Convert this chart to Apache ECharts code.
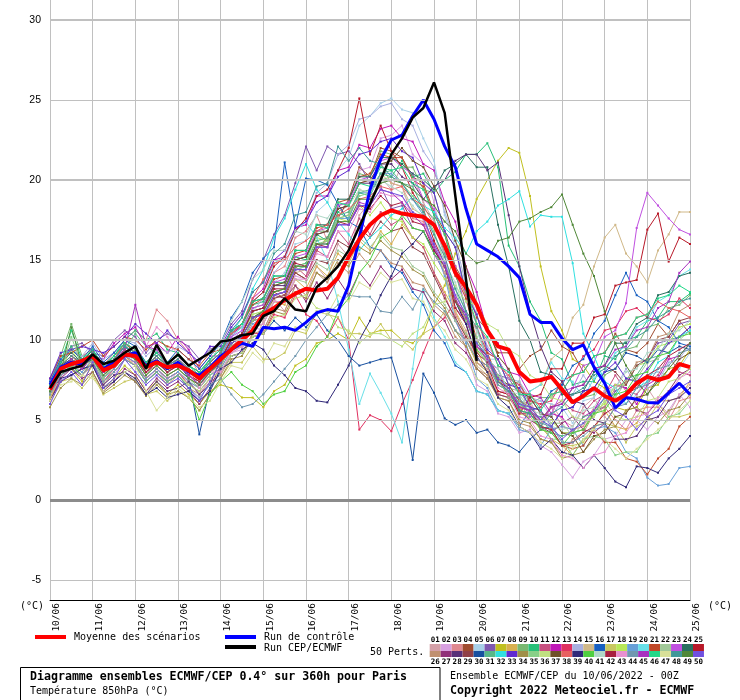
<!DOCTYPE html>
<html><head><meta charset="utf-8">
<script src="https://cdn.jsdelivr.net/npm/echarts/dist/echarts.min.js"></script>
<style>html,body{margin:0;padding:0;background:#fff}#c{width:740px;height:700px}</style>
</head><body><div id="c"></div>
<script>
const hours = [0,6,12,18,24,30,36,42,48,54,60,66,72,78,84,90,96,102,108,114,120,126,132,138,144,150,156,162,168,174,180,186,192,198,204,210,216,222,228,234,240,246,252,258,264,270,276,282,288,294,300,306,312,318,324,330,336,342,348,354,360];
const dateLabels = ['10/06','11/06','12/06','13/06','14/06','15/06','16/06','17/06','18/06','19/06','20/06','21/06','22/06','23/06','24/06','25/06'];
const yTicks = [-5,0,5,10,15,20,25,30];

const meanValues = [6.9,8.2,8.5,8.7,9.0,8.1,8.4,9.1,9.0,8.3,8.6,8.3,8.4,8.1,7.6,8.2, 8.8,9.4,10.0,10.6,11.6,12.0,12.5,12.9,13.2,13.1,13.2,13.9,15.2,16.3,17.2, 17.8,18.1,17.9,17.8,17.7,17.2,15.9,14.2,13.3,12.2,10.6,9.6,9.4,8.0,7.4, 7.5,7.7,6.9,6.1,6.5,7.0,6.5,6.2,6.6,7.3,7.7,7.5,7.7,8.5,8.3];
const controlValues = [7.2,8.3,8.6,8.5,9.0,8.2,8.6,9.0,9.2,8.4,8.7,8.2,8.6,8.0,7.8,8.3, 9.0,9.4,9.8,9.6,10.8,10.7,10.8,10.6,11.1,11.7,11.9,11.8,13.4,16.4,19.4, 21.3,22.5,22.8,24.0,25.0,23.8,22.1,20.8,18.2,16.0,15.6,15.2,14.6,13.9,11.6, 11.1,11.1,10.1,9.4,9.7,8.3,7.3,5.75,6.4,6.3,6.1,6.06,6.7,7.3,6.6];
const cepValues = [7.0,8.0,8.2,8.4,9.1,8.5,8.7,9.2,9.6,8.2,9.7,8.5,9.1,8.4,8.8,9.2, 9.9,10.0,10.3,10.4,11.5,11.8,12.6,11.9,11.8,13.3,13.9,14.6,15.6,17.1,18.5, 20.0,21.6,22.6,23.9,24.5,26.1,24.2,19.0,13.8,8.7];

const m01 = [6.6,8.0,8.8,8.2,8.9,7.6,8.6,9.2,9.4,7.8,8.8,7.9,8.5,8.2,7.0,8.0, 8.4,9.6,10.2,9.6,11.2,12.6,11.8,13.4,12.8,14.6,13.8,16.0,15.2,17.8,18.6, 20.2,19.4,21.0,20.2,18.6,17.4,15.2,12.6,11.0,8.6,8.2,6.6,7.0,5.4,6.2, 4.8,6.0,5.0,4.6,5.8,6.4,5.2,4.6,5.6,6.2,7.0,6.0,5.4,6.6,7.2];
const m02 = [6.4,7.6,8.4,7.8,8.6,7.2,7.8,8.8,8.6,7.4,8.2,7.4,8.0,7.5,6.6,7.6, 8.0,9.2,9.4,10.8,10.6,12.0,12.4,14.0,13.8,15.8,16.2,18.0,18.6,20.6,20.8, 22.6,22.8,23.4,21.6,21.0,18.6,15.6,11.4,9.4,7.2,6.8,5.4,5.2,4.2,4.4, 3.4,3.0,2.2,1.4,2.4,2.8,3.8,4.0,5.0,5.0,4.4,5.2,5.6,6.6,5.8];
const m03 = [6.8,8.2,8.6,9.0,9.4,8.4,9.2,10.0,10.6,10.0,11.9,11.2,10.0,9.2,7.8,8.6, 9.2,10.6,10.8,12.4,13.0,14.2,14.6,16.4,16.8,17.8,16.2,18.0,18.4,19.8,20.0, 21.0,19.8,19.6,17.6,17.4,16.0,14.2,11.6,10.4,9.0,8.8,7.4,7.2,6.2,6.0, 4.8,5.8,4.6,4.4,4.6,5.8,5.8,5.0,4.4,5.6,5.8,5.8,5.0,6.2,6.4];
const m04 = [7.0,8.4,9.0,8.4,9.2,8.0,8.8,9.8,9.2,8.2,9.0,8.4,8.8,8.0,7.8,8.4, 9.0,10.0,10.4,11.2,11.8,13.0,12.6,14.2,13.8,15.6,16.4,17.6,18.8,20.8,20.2, 22.0,21.8,21.4,20.2,19.8,18.0,16.8,14.6,13.4,11.4,10.6,9.2,9.2,8.2,9.0, 9.4,10.6,9.6,9.2,8.0,9.0,9.2,10.4,9.4,9.2,9.8,11.0,10.2,11.2,10.4];
const m05 = [6.8,8.0,8.6,8.2,9.0,7.8,8.6,9.0,8.8,8.0,8.6,8.0,8.4,7.8,7.2,8.2, 8.6,9.8,10.2,11.6,11.8,13.6,14.2,16.0,16.2,18.0,18.6,20.6,21.4,23.4,24.0, 24.8,25.1,24.4,24.2,22.6,21.2,17.8,15.8,12.4,11.0,8.8,8.8,7.2,7.2,6.0, 6.2,6.0,5.8,4.8,6.2,6.4,7.4,6.2,6.0,6.6,7.8,8.0,7.8,8.2,9.2];
const m06 = [7.2,8.8,9.6,9.8,9.2,9.0,10.0,10.6,10.2,9.2,10.0,10.4,10.0,9.6,8.8,9.4, 9.8,11.0,11.8,13.8,15.0,16.6,17.8,19.8,22.1,20.6,22.1,21.6,21.8,21.0,19.8, 19.6,18.2,18.4,17.0,16.8,15.4,14.2,12.0,11.2,9.6,9.0,7.8,7.6,6.6,6.4, 5.4,5.2,4.2,4.2,4.4,5.6,5.8,6.8,7.2,8.4,8.8,9.8,10.0,11.0,11.2];
const m07 = [6.6,7.8,8.2,7.4,8.4,7.0,7.6,8.4,7.8,6.8,7.4,6.6,7.2,6.6,6.0,6.8, 7.2,7.0,6.4,6.4,5.8,6.8,7.2,8.4,8.8,9.8,10.0,10.4,10.0,11.4,10.4, 10.6,10.6,10.0,9.8,10.4,12.2,13.4,15.4,16.8,18.8,20.0,21.2,22.0,21.7,19.0, 14.6,11.8,10.6,8.8,8.4,7.4,7.0,5.8,5.6,5.8,7.0,7.2,8.2,8.4,9.4];
const m08 = [6.4,7.8,8.4,7.8,8.8,7.6,8.2,9.0,8.4,7.6,8.2,7.6,8.0,7.4,7.0,7.8, 8.2,9.4,9.6,10.8,11.0,12.4,12.2,13.8,13.2,14.6,14.0,15.4,14.8,16.2,15.6, 16.8,16.0,17.2,16.4,15.8,14.2,13.0,11.8,10.2,9.4,8.0,7.6,6.4,5.8,5.0, 4.6,3.8,3.4,2.8,3.8,4.4,5.6,4.6,4.4,4.8,6.0,6.2,6.2,6.4,7.4];
const m09 = [7.4,9.0,11.0,9.0,9.0,8.2,8.8,9.6,9.0,8.4,9.0,8.2,8.8,8.2,7.8,8.6, 9.2,10.4,10.8,12.0,12.2,13.4,13.6,15.0,15.2,16.8,16.8,18.4,18.6,20.4,20.2, 21.8,21.6,20.8,20.8,19.4,19.2,16.8,15.8,13.0,11.6,9.2,8.8,7.2,7.4,6.0, 6.4,6.4,7.4,6.2,6.4,6.6,7.8,8.2,9.4,9.6,10.8,11.0,12.0,12.2,12.8];
const m10 = [7.0,8.6,9.6,8.6,9.4,8.2,9.0,10.0,10.6,10.0,10.4,9.4,9.2,8.4,7.8,8.8, 9.4,10.6,11.0,12.2,12.4,13.6,13.6,15.2,15.0,16.6,16.2,18.0,17.6,19.2,19.0, 20.4,20.2,21.2,20.2,20.4,19.2,20.0,20.5,21.6,21.6,22.3,20.8,15.9,14.6,12.4, 11.2,9.2,8.8,7.2,7.4,7.4,9.0,8.8,10.0,10.2,11.2,11.4,12.4,12.4,12.9];
const m11 = [6.8,8.2,8.4,8.4,8.8,7.8,8.4,9.2,8.8,8.0,8.4,7.8,8.2,7.6,7.2,8.0, 8.6,9.8,10.2,11.4,11.8,13.2,12.8,14.6,14.0,15.6,15.2,16.8,16.0,17.6,16.6, 18.0,17.2,17.6,16.4,15.8,14.2,12.8,11.2,10.0,8.6,8.0,6.8,6.6,5.4,5.4, 4.6,5.8,6.2,5.6,5.4,6.2,6.6,7.8,6.8,6.6,7.4,7.8,9.0,8.0,7.8];
const m12 = [7.2,8.6,9.4,8.8,9.0,8.8,9.8,10.4,10.8,9.6,9.8,9.2,10.2,9.4,8.2,9.0, 9.0,10.2,11.0,12.6,13.2,15.0,15.2,17.0,17.2,19.0,19.0,20.6,20.8,22.2,22.0, 23.2,23.4,22.6,22.4,21.0,20.6,18.6,17.4,14.6,13.0,10.6,9.8,8.0,7.8,6.6, 6.4,5.4,5.2,4.2,5.2,5.6,6.8,7.2,7.0,6.0,7.2,7.6,8.8,9.0,9.8];
const m13 = [6.6,7.8,8.2,7.8,8.6,7.4,8.2,9.0,8.6,7.6,8.2,7.6,8.0,7.2,6.8,7.6, 8.0,9.0,9.2,10.4,10.4,11.6,11.4,12.8,11.6,11.2,10.2,11.4,10.0,4.4,5.3, 5.0,4.3,6.0,7.5,9.2,10.8,11.4,12.4,11.2,10.8,9.2,8.8,7.6,7.2,6.2, 6.0,6.2,7.4,7.8,9.0,9.4,10.6,10.8,11.8,12.0,11.4,11.2,11.6,12.6,12.0];
const m14 = [7.4,8.8,9.4,9.0,9.8,8.8,9.2,10.0,9.8,9.0,9.6,9.2,9.6,9.2,8.6,9.4, 8.8,10.0,10.6,11.8,12.6,14.2,15.0,16.8,17.4,19.2,19.8,21.6,22.2,23.8,24.0, 24.6,24.8,23.8,23.4,21.8,20.8,18.0,16.2,13.4,11.6,9.6,8.8,7.6,7.4,6.4, 6.2,5.2,6.2,6.6,7.8,6.8,6.6,7.0,8.2,7.2,7.0,7.4,8.6,8.8,9.8];
const m15 = [6.8,8.0,8.6,8.0,8.8,7.6,8.4,9.2,8.8,7.8,8.4,7.8,8.2,7.6,7.2,8.0, 8.4,9.6,9.8,11.2,11.4,12.6,12.8,14.2,14.4,15.8,16.2,17.6,17.8,19.4,19.2, 20.4,19.8,19.6,18.2,17.8,15.8,14.2,11.8,10.6,8.4,7.8,6.6,6.4,5.6,6.8, 7.2,8.8,9.4,11.4,12.2,14.6,16.4,17.2,15.4,14.6,13.6,15.6,16.6,18.0,18.0];
const m16 = [7.4,8.8,9.4,8.8,9.6,8.6,9.2,10.0,9.6,8.6,9.2,8.6,9.4,8.8,8.2,9.0, 9.8,11.4,12.4,14.2,15.1,15.8,21.1,17.1,20.1,20.0,19.7,18.5,17.4,17.0,15.8, 15.6,14.6,14.2,13.0,12.2,10.6,9.8,8.4,8.0,6.8,6.6,5.6,5.4,4.6,5.6, 5.8,6.8,7.2,8.4,8.8,10.4,11.2,12.8,14.2,12.8,12.4,11.2,10.8,9.8,9.6];
const m17 = [6.4,7.4,7.6,7.0,7.8,6.6,7.0,7.4,7.6,6.6,6.8,6.2,6.8,6.4,5.6,6.6, 7.6,8.6,8.6,9.6,8.8,8.8,9.2,10.6,10.4,11.8,11.6,11.4,10.4,10.4,10.2, 11.0,10.0,10.0,9.4,10.4,10.8,11.8,10.6,10.0,8.6,8.0,6.6,6.4,5.4,5.2, 4.4,4.2,3.4,3.4,3.6,4.6,4.8,4.6,3.6,4.6,5.0,6.0,5.2,5.2,5.4];
const m18 = [7.0,8.2,9.4,8.4,9.0,7.8,8.6,9.4,9.0,8.0,8.8,8.0,8.6,7.8,7.4,8.2, 8.8,10.0,10.4,11.6,11.8,13.0,13.2,14.6,14.8,16.4,16.2,17.6,17.4,18.4,17.8, 18.6,17.6,17.4,16.4,16.0,14.8,13.8,12.4,11.4,9.8,9.0,7.6,7.2,6.0,5.8, 5.0,5.0,4.2,4.2,4.4,5.6,6.0,7.2,7.2,8.4,8.6,9.6,9.8,10.8,11.0];
const m19 = [6.6,7.8,8.4,8.0,8.8,7.6,8.2,9.0,8.6,7.6,8.2,7.6,8.0,7.4,7.0,7.8, 8.2,9.4,9.8,11.0,11.4,12.8,13.0,14.4,14.6,16.0,16.0,17.6,17.6,19.2,19.2, 20.4,20.4,19.8,18.8,17.8,15.8,14.0,11.2,9.8,7.6,7.0,5.6,5.4,4.4,4.2, 3.4,4.4,4.6,4.4,3.4,4.4,4.6,4.2,3.0,2.6,1.4,0.9,1.0,2.0,2.1];
const m20 = [6.8,8.0,8.8,8.2,9.0,7.8,8.6,9.4,9.0,8.2,8.8,8.0,8.6,7.8,7.2,8.2, 8.8,10.2,10.8,12.4,13.0,14.8,15.2,16.8,17.4,16.4,15.0,12.4,9.4,6.0,7.9, 6.7,5.4,3.6,8.2,13.1,11.4,10.2,8.6,8.0,6.8,6.6,5.6,5.4,5.8,6.8, 7.2,8.6,7.6,7.4,6.4,7.6,8.0,9.2,9.6,10.8,11.2,12.4,12.8,14.0,14.4];
const m21 = [7.6,9.0,9.2,9.6,10.0,9.0,9.6,10.2,10.0,9.4,10.0,9.6,9.4,8.8,8.4,9.2, 9.4,10.6,11.0,12.2,12.6,13.8,14.0,15.4,15.6,17.0,17.2,18.6,18.8,20.2,20.4, 21.6,21.4,21.4,20.0,19.6,17.8,16.6,14.0,12.6,10.0,9.2,7.6,7.0,5.8,5.6, 4.6,4.4,3.4,3.2,3.4,4.4,3.6,3.6,2.6,2.4,1.6,2.6,3.2,4.6,5.2];
const m22 = [6.6,7.8,8.2,7.8,8.6,7.4,8.0,8.8,8.4,7.4,8.0,7.4,7.8,7.2,6.8,7.6, 8.0,9.2,9.6,10.8,11.0,12.4,12.4,13.8,13.6,14.8,14.4,15.6,15.2,16.4,15.8, 16.6,15.8,15.6,14.6,14.2,13.0,12.2,11.2,10.4,9.4,8.6,7.8,7.0,6.8,5.8, 5.6,4.8,4.8,4.0,4.8,5.2,6.2,6.4,7.4,7.6,8.6,8.8,9.8,10.0,10.6];
const m23 = [7.0,8.2,8.8,8.2,9.0,8.0,8.6,9.6,9.2,8.2,8.8,8.2,8.6,8.0,7.6,8.4, 9.0,10.2,10.6,12.0,12.2,13.6,13.8,15.2,15.4,16.8,17.0,18.4,18.6,20.0,20.2, 21.2,21.4,20.8,20.4,18.8,18.2,15.8,14.6,11.8,10.8,8.6,8.2,6.4,6.4,5.2, 5.2,5.4,6.8,7.0,8.4,8.6,10.2,10.6,12.3,17.0,19.2,18.4,17.6,16.9,16.6];
const m24 = [7.2,8.6,9.2,8.6,9.4,8.4,9.0,9.8,9.4,8.6,9.2,8.6,9.0,8.4,8.0,8.8, 9.4,10.6,11.0,12.4,12.6,14.0,14.0,15.6,15.6,17.2,17.2,18.8,18.8,20.2,20.2, 21.4,21.4,21.0,20.4,20.0,19.4,20.6,21.0,21.6,20.8,20.8,17.2,14.6,11.2,10.0, 8.0,7.8,6.6,6.6,6.8,8.0,8.4,9.8,9.8,11.0,11.4,12.8,13.0,14.0,14.2];
const m25 = [7.0,8.4,8.8,8.4,9.2,8.2,8.8,9.6,9.2,8.4,9.0,8.4,8.8,8.2,7.8,8.6, 9.2,10.4,11.0,12.4,13.0,14.6,15.2,16.8,17.6,19.0,19.4,20.6,22.0,25.1,21.6, 23.4,21.8,20.8,19.2,18.2,16.2,14.8,12.0,11.0,8.8,8.4,6.8,6.6,5.4,6.4, 6.6,8.2,8.2,9.8,9.8,11.4,11.6,13.4,13.6,13.75,16.9,17.9,14.9,16.4,16.0];
const m26 = [6.6,7.8,8.2,7.8,8.4,7.2,8.0,8.8,8.4,7.4,8.0,7.2,7.8,7.0,6.6,7.4, 7.8,9.0,9.2,10.4,10.6,12.0,11.8,13.4,12.8,14.2,13.6,14.8,14.2,15.4,14.6, 15.6,14.8,14.6,13.6,13.4,12.2,11.6,10.2,9.6,8.2,7.8,6.4,6.2,4.8,4.6, 3.8,3.6,2.8,3.8,4.2,5.4,5.8,7.0,7.4,8.6,8.8,10.2,10.4,11.8,12.2];
const m27 = [6.2,7.6,8.2,7.6,8.0,6.8,7.4,8.2,7.8,6.8,7.6,7.0,7.4,6.8,6.0,7.0, 8.4,9.6,10.0,11.2,11.4,12.8,12.6,13.4,12.4,13.6,12.6,13.8,12.8,14.2,13.4, 14.6,13.8,14.4,13.2,13.0,11.8,11.2,9.8,9.2,8.2,7.6,6.6,6.4,5.6,5.0, 4.6,4.2,4.8,5.2,4.4,4.2,4.8,5.8,6.4,5.6,5.4,6.2,6.8,7.8,8.2];
const m28 = [6.2,7.4,7.8,8.2,8.4,7.2,7.8,8.0,7.4,6.6,7.4,6.8,7.0,7.4,6.6,7.2, 8.8,10.0,10.4,11.8,12.0,13.4,13.4,15.0,15.2,16.6,16.8,18.2,18.4,19.8,19.8, 21.0,21.0,20.2,19.8,18.8,19.6,20.0,21.2,21.6,21.6,20.6,21.1,17.8,14.6,11.8, 9.6,8.0,7.4,6.2,6.0,5.0,4.8,3.8,3.8,4.0,5.0,5.2,6.2,6.4,7.0];
const m29 = [6.8,8.2,8.6,8.2,9.0,7.8,8.4,9.2,8.8,8.0,8.6,8.0,8.4,7.8,7.4,8.0, 8.6,9.8,10.2,11.4,11.6,12.6,12.8,14.2,13.8,15.0,14.8,16.2,15.8,17.0,16.4, 17.4,16.8,17.0,15.8,15.4,14.0,12.6,11.4,10.2,9.2,8.6,7.6,7.2,6.2,5.8, 5.0,5.8,6.0,7.0,7.2,8.2,8.4,8.0,7.2,8.4,8.8,10.0,10.2,11.2,11.4];
const m30 = [7.2,8.4,8.8,8.4,9.2,8.2,8.8,9.6,9.0,8.2,8.8,8.2,8.6,7.6,4.1,7.0, 8.0,9.0,9.2,10.2,10.4,11.2,10.6,11.4,10.8,11.6,10.6,10.0,9.0,8.4,8.6, 8.8,8.9,6.7,2.5,7.9,6.7,5.1,4.7,5.0,4.2,4.4,3.6,3.4,3.0,3.8, 4.4,4.6,5.6,5.8,6.8,7.0,8.0,8.2,9.2,9.0,8.6,9.4,9.2,9.6,9.4];
const m31 = [6.8,8.0,8.6,8.2,9.0,7.8,8.6,9.4,10.4,9.6,9.2,8.4,8.4,7.8,7.2,8.0, 8.6,9.8,10.2,11.4,11.8,13.0,13.2,14.6,14.8,16.2,16.4,17.8,18.0,19.2,19.4, 20.4,20.6,19.8,19.6,18.2,17.6,15.4,14.2,11.8,10.8,8.8,8.2,6.8,6.4,5.4, 5.2,4.2,4.0,4.2,5.2,5.4,6.4,6.6,7.6,7.8,8.8,9.0,10.0,10.2,10.8];
const m32 = [7.0,8.2,8.8,8.4,9.0,8.0,8.8,9.6,9.2,8.4,9.0,8.4,8.8,8.2,7.6,8.4, 9.0,10.4,11.4,13.2,14.4,16.4,17.6,19.4,21.0,19.4,18.6,17.4,16.6,15.6,16.4, 17.0,17.8,18.2,19.0,18.4,18.0,17.0,16.4,15.4,16.8,17.4,18.4,18.8,19.3,17.1, 17.8,17.7,17.7,14.8,10.4,9.0,7.4,7.0,6.0,7.0,7.4,8.6,9.0,10.2,10.6];
const m33 = [7.6,9.2,9.4,9.6,9.4,9.2,9.6,10.2,11.0,10.4,9.8,10.6,9.8,9.2,8.6,9.6, 9.6,10.8,11.6,13.0,13.6,15.0,15.6,17.0,17.4,18.6,19.0,20.2,20.6,21.6,21.8, 22.4,22.6,21.8,21.4,19.8,19.2,16.8,15.8,12.8,11.6,9.4,8.8,7.2,7.0,5.8, 5.6,4.6,5.6,5.8,6.8,7.0,8.0,8.6,7.6,7.4,8.2,9.0,9.8,10.2,10.8];
const m34 = [5.8,7.0,7.6,7.2,8.0,6.7,7.2,7.8,7.4,6.5,7.2,6.6,6.8,6.4,5.6,6.6, 7.6,8.8,9.0,10.2,10.4,11.8,11.6,13.0,12.6,14.2,13.8,15.0,14.6,15.8,15.4, 16.2,15.6,15.2,14.4,14.0,12.8,12.0,10.6,9.6,8.2,7.6,6.4,6.2,5.0,4.8, 3.8,3.6,2.6,2.8,3.0,3.8,4.4,4.6,5.6,5.8,5.2,4.8,5.6,5.8,6.6];
const m35 = [6.8,8.0,10.2,8.4,8.8,7.6,8.4,9.2,8.8,7.8,8.4,7.8,8.2,7.6,7.0,7.8, 8.4,9.6,10.0,11.2,11.4,12.8,13.0,14.4,14.6,16.0,16.2,17.6,17.8,19.0,19.2, 20.0,20.2,19.8,19.0,18.0,16.8,14.8,13.2,11.2,10.2,8.4,7.8,6.4,6.2,5.0, 4.8,3.8,3.8,2.8,3.8,4.0,3.8,2.8,3.0,3.0,4.0,4.2,5.2,5.4,6.2];
const m36 = [6.6,7.8,8.4,7.8,8.6,7.4,8.0,8.8,8.4,7.4,8.0,7.4,7.8,7.2,6.8,7.6, 8.0,9.0,9.2,10.2,10.4,11.4,11.6,12.6,12.8,12.0,11.8,10.8,10.6,9.8,10.4, 10.4,10.0,9.6,10.4,10.8,12.2,12.4,13.4,12.4,12.2,11.0,10.6,9.4,9.0,7.8, 7.4,6.4,6.2,5.2,5.0,5.2,6.2,5.2,5.0,5.2,6.2,6.4,7.4,7.6,8.2];
const m37 = [7.0,8.2,8.8,8.2,9.0,8.0,8.6,9.4,9.0,8.2,8.8,8.2,8.6,8.0,7.6,8.2, 8.8,10.0,10.4,11.8,12.0,13.4,13.6,15.0,15.2,16.6,16.8,18.2,18.4,19.8,20.0, 21.0,21.2,22.0,21.2,20.8,19.6,18.4,16.2,14.6,12.2,10.8,9.0,8.2,6.8,6.4, 5.4,5.2,4.2,4.0,3.0,4.0,4.2,5.2,5.4,6.4,6.6,7.6,7.8,8.8,9.2];
const m38 = [7.0,8.4,9.0,8.6,9.2,8.2,8.8,9.8,9.4,8.4,9.0,8.4,8.8,8.2,7.8,8.6, 9.2,10.4,11.0,12.6,13.8,14.8,15.0,15.8,16.2,16.8,17.2,17.8,18.2,18.8,19.0, 19.6,19.4,19.6,18.8,18.4,17.2,16.0,14.2,12.8,11.0,10.0,8.4,7.8,6.8,6.6, 5.8,6.6,6.8,7.8,8.0,9.0,9.2,10.2,10.4,11.4,11.6,12.4,12.0,11.8,11.4];
const m39 = [6.8,7.6,7.8,8.2,8.4,7.0,7.4,8.0,7.6,6.6,7.0,6.4,6.6,6.8,6.2,6.8, 8.2,8.6,9.4,9.8,9.4,8.4,7.8,7.0,6.8,6.2,6.1,7.2,8.4,10.0,11.2, 12.8,14.0,15.4,16.0,16.8,15.6,14.6,12.4,11.0,9.0,8.0,6.4,5.8,4.6,4.2, 3.2,3.8,3.0,2.8,2.0,2.8,2.0,1.15,0.8,2.1,2.0,1.7,2.6,3.2,4.0];
const m40 = [6.6,7.8,8.4,7.8,8.6,7.4,8.0,8.8,8.4,7.4,8.0,7.4,7.8,7.0,5.0,6.6, 7.4,8.0,7.2,6.8,6.0,6.6,6.8,8.0,8.4,9.6,10.2,11.8,12.6,14.2,15.0, 16.4,16.8,17.8,17.0,16.8,15.4,14.6,12.4,11.4,9.4,8.8,7.2,6.8,5.6,5.4, 4.4,4.2,3.4,4.2,4.4,5.4,5.6,6.6,6.8,7.8,8.0,9.0,9.2,10.2,10.4];
const m41 = [6.8,8.0,8.6,8.2,9.0,7.8,8.6,9.4,9.0,8.2,8.8,8.2,8.6,8.0,7.6,8.6, 9.8,11.2,12.4,13.8,14.4,15.6,15.6,16.8,16.6,17.8,17.6,18.6,18.4,19.4,19.2, 20.0,19.6,19.2,18.4,17.6,16.6,14.8,13.6,11.6,10.6,8.8,8.2,6.8,6.6,5.6, 5.4,4.6,4.4,4.6,5.6,5.8,6.8,7.0,8.0,8.2,9.2,9.4,10.4,10.6,11.2];
const m42 = [7.0,8.2,8.6,8.2,9.0,8.0,8.6,9.4,9.0,8.0,8.6,8.0,8.4,7.8,7.4,8.2, 8.8,10.0,10.4,11.8,12.0,13.2,13.2,14.8,14.6,16.0,15.8,17.4,17.2,18.4,18.2, 19.0,18.4,18.6,17.4,17.2,15.6,14.6,12.4,11.6,9.6,9.0,7.4,7.0,5.8,5.6, 4.6,4.4,3.4,3.6,4.2,4.6,5.4,5.8,6.6,7.0,7.8,8.2,9.0,9.4,9.8];
const m43 = [6.6,7.8,8.2,7.8,8.6,7.4,8.0,8.8,8.4,9.6,10.8,10.2,9.0,8.0,7.0,8.0, 8.0,9.2,9.6,10.8,11.0,12.4,12.4,13.8,13.8,15.4,15.2,16.8,16.8,18.2,18.0, 19.2,19.0,19.0,17.8,17.6,15.8,14.8,12.8,11.6,9.6,8.8,7.0,6.6,5.2,5.0, 4.0,3.8,2.8,2.6,2.0,2.8,3.0,4.0,4.2,5.2,5.4,6.4,6.6,7.6,8.0];
const m44 = [6.6,7.8,8.2,7.8,8.6,7.4,8.0,8.8,8.4,7.4,8.0,7.4,7.8,7.0,6.4,7.2, 7.6,6.6,5.8,6.0,6.6,7.4,8.2,9.0,10.0,10.8,11.6,12.2,12.8,12.7,12.7, 11.8,11.7,12.7,11.9,13.2,12.4,11.8,10.6,10.0,8.8,8.4,7.2,6.8,6.0,5.6, 4.8,4.6,3.6,3.6,4.0,4.6,4.8,5.8,6.0,7.0,7.2,8.2,8.4,9.2,9.4];
const m45 = [7.0,8.2,8.8,8.2,9.0,8.0,8.6,9.4,12.2,9.6,9.4,8.4,8.4,7.8,7.2,8.0, 8.6,9.8,10.2,11.4,11.6,12.8,13.0,14.4,14.4,15.8,15.8,17.2,17.2,18.6,18.4, 19.4,19.2,18.6,17.8,17.2,15.8,14.6,12.6,11.4,9.6,8.8,7.4,6.8,5.8,5.6, 5.0,5.8,6.0,7.0,7.2,8.2,8.4,9.4,9.6,10.6,10.8,12.0,12.4,14.2,14.9];
const m46 = [7.2,8.6,10.6,8.8,9.4,8.4,9.0,9.8,9.4,8.6,9.2,8.6,9.0,8.4,8.0,8.8, 9.4,10.6,11.0,12.4,12.6,14.0,14.0,15.6,15.6,17.2,17.0,18.6,18.4,19.8,19.6, 20.8,20.6,20.8,19.8,19.4,17.8,16.6,14.4,13.2,11.0,10.2,8.4,8.0,6.6,6.6, 5.6,6.6,6.8,7.8,8.0,9.0,9.2,10.2,10.4,11.4,11.6,12.6,12.8,13.4,13.0];
const m47 = [6.2,7.2,7.4,7.8,7.6,6.8,7.6,8.0,8.4,6.8,5.6,6.4,7.0,6.4,5.8,6.2, 7.4,8.4,8.2,9.2,8.6,9.8,9.6,10.8,10.6,11.8,11.6,12.8,12.4,13.6,13.2, 14.2,13.6,13.8,12.6,12.4,11.2,10.6,9.4,8.8,7.6,7.2,6.0,5.6,4.6,4.2, 3.6,3.2,2.6,3.2,3.8,4.4,3.8,3.2,2.6,3.2,3.8,4.4,5.0,5.6,6.2];
const m48 = [7.0,8.4,9.0,8.6,9.2,8.2,8.8,9.6,9.2,8.4,9.0,8.4,8.8,8.2,7.8,8.6, 9.2,10.6,11.4,13.0,13.6,15.4,16.0,17.8,18.0,19.6,19.8,22.1,21.2,22.0,21.2, 21.0,20.2,19.8,18.8,18.0,16.6,15.2,13.2,11.8,9.8,9.0,7.4,6.8,5.6,5.4, 4.6,5.4,5.8,6.6,7.0,7.8,8.2,9.0,9.4,10.2,10.6,11.4,11.8,12.4,12.6];
const m49 = [6.8,8.0,10.8,8.4,8.8,7.8,8.4,9.2,8.8,7.8,8.4,7.8,8.2,7.6,7.2,8.0, 8.6,9.8,10.2,11.4,11.8,13.0,13.2,14.6,14.6,16.0,16.0,17.4,17.4,18.8,18.8, 19.8,20.0,19.8,19.4,18.8,18.4,17.4,16.8,15.4,14.8,15.0,16.2,16.4,17.4,17.6, 18.0,18.3,19.1,17.2,15.4,14.0,11.8,9.8,8.4,7.4,6.6,7.4,8.2,9.0,9.8];
const m50 = [6.0,7.4,8.0,7.2,8.6,7.0,7.6,8.8,8.0,7.2,7.8,7.2,7.6,7.0,6.2,7.4, 8.6,9.8,10.2,11.4,11.6,12.8,13.0,14.4,14.4,15.8,15.8,17.2,17.2,18.4,18.4, 19.4,19.2,19.0,18.0,17.6,16.0,14.8,12.8,11.6,9.8,9.0,7.6,7.0,6.0,5.8, 5.0,4.6,3.8,4.4,4.8,5.6,6.4,5.6,5.2,4.4,5.2,5.6,6.6,7.0,7.4];

const memberColors = ['#d4a0a8','#d8a0e0','#e08890','#a04c30','#a8d0e8','#8058b0','#c0c020','#d8b050','#78b870','#28c078','#c85080','#c018b8','#e03060','#a8b0e0','#d0b888','#1860c0','#c8c860','#b8e858','#68a0d8','#68e0e8','#c04828','#a0c898','#c050e0','#287060','#b81828',
'#c09070','#903078','#583078','#904048','#1850a0','#58b888','#30e0e0','#6028d0','#a09048','#88d088','#c0e080','#705028','#e86060','#302878','#50d040','#b0d8c8','#a82040','#e890d0','#7098b0','#a830c0','#20d888','#d8e098','#409898','#508838','#7050e0'];
const members = [m01,m02,m03,m04,m05,m06,m07,m08,m09,m10,m11,m12,m13,m14,m15,m16,m17,m18,m19,m20,m21,m22,m23,m24,m25,m26,m27,m28,m29,m30,m31,m32,m33,m34,m35,m36,m37,m38,m39,m40,m41,m42,m43,m44,m45,m46,m47,m48,m49,m50];

const MONO = '"DejaVu Sans Mono", "Liberation Mono", monospace';
const chart = echarts.init(document.getElementById('c'), null, {renderer: 'canvas'});
const toXY = vals => vals.map((v, i) => [hours[i], v]);

const series = [];
series.push({
  type: 'line', name: 'grid', data: [], z: 1, silent: true,
  markLine: {
    silent: true, symbol: ['none', 'none'], label: {show: false}, animation: false,
    data: yTicks.map(v => ({yAxis: v, lineStyle: {type: 'solid', color: v === 0 ? '#8c8c8c' : '#c0c0c0', width: v === 0 ? 3 : (v % 10 === 0 ? 2 : 1)}}))
  }
});
members.forEach((m, i) => {
  series.push({
    type: 'line', name: String(i + 1).padStart(2, '0'), data: toXY(m), z: 2, silent: true,
    symbol: 'rect', symbolSize: 2, showSymbol: true,
    lineStyle: {width: 1, color: memberColors[i]}, itemStyle: {color: memberColors[i]}
  });
});
series.push({type: 'line', name: 'Run de contrôle', data: toXY(controlValues), z: 3, silent: true, showSymbol: false, lineStyle: {width: 3, color: '#0000ff'}});
series.push({type: 'line', name: 'Moyenne des scénarios', data: toXY(meanValues), z: 4, silent: true, showSymbol: false, lineStyle: {width: 4, color: '#ff0000'}});
series.push({type: 'line', name: 'Run CEP/ECMWF', data: toXY(cepValues), z: 5, silent: true, showSymbol: false, lineStyle: {width: 2.5, color: '#000000'}});

const graphics = [];
graphics.push({type: 'rect', shape: {x: 35, y: 635, width: 31, height: 4}, style: {fill: '#ff0000'}});
graphics.push({type: 'text', x: 74, y: 637, style: {text: 'Moyenne des scénarios', font: '10px ' + MONO, fill: '#000', verticalAlign: 'middle'}});
graphics.push({type: 'rect', shape: {x: 225, y: 635, width: 31, height: 4}, style: {fill: '#0000ff'}});
graphics.push({type: 'text', x: 264, y: 637, style: {text: 'Run de contrôle', font: '10px ' + MONO, fill: '#000', verticalAlign: 'middle'}});
graphics.push({type: 'rect', shape: {x: 225, y: 645, width: 31, height: 4}, style: {fill: '#000000'}});
graphics.push({type: 'text', x: 264, y: 648, style: {text: 'Run CEP/ECMWF', font: '10px ' + MONO, fill: '#000', verticalAlign: 'middle'}});
graphics.push({type: 'text', x: 370, y: 652, style: {text: '50 Perts.', font: '10px ' + MONO, fill: '#000', verticalAlign: 'middle'}});
const colW = 10.97;
for (let i = 0; i < 25; i++) {
  const x0 = 429.7 + i * colW;
  graphics.push({type: 'rect', shape: {x: x0, y: 644, width: colW, height: 7}, style: {fill: memberColors[i]}});
  graphics.push({type: 'rect', shape: {x: x0, y: 651, width: colW, height: 6}, style: {fill: memberColors[i + 25]}});
  graphics.push({type: 'text', x: x0 + colW / 2, y: 640, style: {text: String(i + 1).padStart(2, '0'), font: 'bold 7.5px ' + MONO, fill: '#000', align: 'center', verticalAlign: 'middle'}});
  graphics.push({type: 'text', x: x0 + colW / 2, y: 662, style: {text: String(i + 26), font: 'bold 7.5px ' + MONO, fill: '#000', align: 'center', verticalAlign: 'middle'}});
}
graphics.push({type: 'rect', shape: {x: 20.5, y: 667.5, width: 419.5, height: 40}, style: {fill: '#fff', stroke: '#000', lineWidth: 1}});
graphics.push({type: 'text', x: 30, y: 677, style: {text: 'Diagramme ensembles ECMWF/CEP 0.4° sur 360h pour Paris', font: 'bold 11.6px ' + MONO, fill: '#000', verticalAlign: 'middle'}});
graphics.push({type: 'text', x: 30, y: 691, style: {text: 'Température 850hPa (°C)', font: '10px ' + MONO, fill: '#000', verticalAlign: 'middle'}});
graphics.push({type: 'text', x: 450, y: 676, style: {text: 'Ensemble ECMWF/CEP du 10/06/2022 - 00Z', font: '10px ' + MONO, fill: '#000', verticalAlign: 'middle'}});
graphics.push({type: 'text', x: 450, y: 691, style: {text: 'Copyright 2022 Meteociel.fr - ECMWF', font: 'bold 11.6px ' + MONO, fill: '#000', verticalAlign: 'middle'}});
graphics.push({type: 'text', x: 20, y: 606, style: {text: '(°C)', font: '10px ' + MONO, fill: '#000', verticalAlign: 'middle'}});
graphics.push({type: 'text', x: 708, y: 606, style: {text: '(°C)', font: '10px ' + MONO, fill: '#000', verticalAlign: 'middle'}});

chart.setOption({
  animation: false,
  backgroundColor: '#ffffff',
  grid: [
    {left: 50, right: 50, top: 0, bottom: 100, containLabel: false},
    {left: 57, right: 43, top: 0, bottom: 100, containLabel: false}
  ],
  xAxis: [
    {type: 'value', gridIndex: 0, min: 0, max: 360, interval: 24,
     axisLine: {show: true, onZero: false, lineStyle: {color: '#000', width: 1}}, axisTick: {show: false}, axisLabel: {show: false},
     splitLine: {show: true, lineStyle: {color: '#c0c0c0', width: 1}}},
    {type: 'value', gridIndex: 1, min: 0, max: 360, interval: 24,
     axisLine: {show: false}, axisTick: {show: false}, splitLine: {show: false},
     axisLabel: {show: true, rotate: 90, margin: 3, color: '#000', fontFamily: MONO, fontSize: 9.5,
       formatter: v => dateLabels[Math.round(v / 24)] || ''}}
  ],
  yAxis: [
    {type: 'value', gridIndex: 0, min: -6.25, max: 31.25, interval: 1.25,
     axisLine: {show: false}, axisTick: {show: false}, splitLine: {show: false},
     axisLabel: {margin: 9, color: '#000', fontFamily: '"Liberation Sans", Arial, sans-serif', fontSize: 10.5,
       formatter: v => { const r = Math.round(v * 100) / 100; return yTicks.includes(r) ? String(r) : ''; }}},
    {type: 'value', gridIndex: 1, min: 0, max: 1, show: false}
  ],
  series: series,
  graphic: graphics
});
</script>
</body></html>
